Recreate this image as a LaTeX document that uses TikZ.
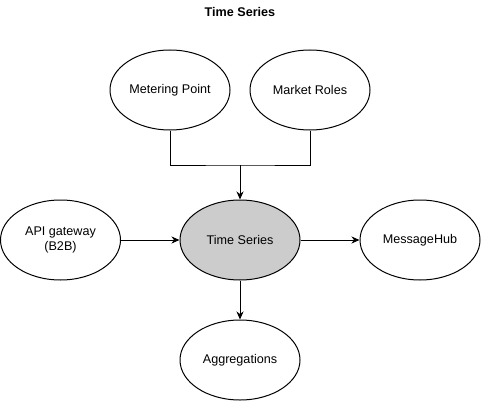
\documentclass[tikz,border=0pt]{standalone}
\usepackage{fontspec}
\setmainfont{Liberation Sans}
\usetikzlibrary{arrows.meta,shapes.geometric}
\begin{document}
\begin{tikzpicture}[x=1pt,y=-1pt,
  every node/.style={font=\fontsize{12.6}{15}\selectfont},
  oval/.style={ellipse,draw,line width=1pt,minimum width=120pt,minimum height=80pt,inner sep=0pt,align=center},
  conn/.style={line width=1pt,-{Stealth[length=8pt,width=7pt,inset=2.5pt]}}]
\useasboundingbox (0,0) rectangle (481,401);
\node[font=\bfseries\fontsize{12.6}{15}\selectfont] (title) at (240,12) {Time Series};
\node[oval] (mp) at (170,90) {Metering Point};
\node[oval] (mr) at (310,90) {Market Roles};
\node[oval,fill={rgb,255:red,204;green,204;blue,204}] (ts) at (240,240) {Time Series};
\node[oval] (api) at (60.5,240) {API gateway\\(B2B)};
\node[oval] (mh) at (420,240) {MessageHub};
\node[oval] (agg) at (240,360) {Aggregations};
\coordinate (j) at (240,165);
\draw[line width=1pt] (mp.south) |- (j) -| (mr.south);
\draw[conn] (j) -- (ts.north);
\draw[conn] (api) -- (ts);
\draw[conn] (ts) -- (mh);
\draw[conn] (ts) -- (agg);
\end{tikzpicture}
\end{document}
